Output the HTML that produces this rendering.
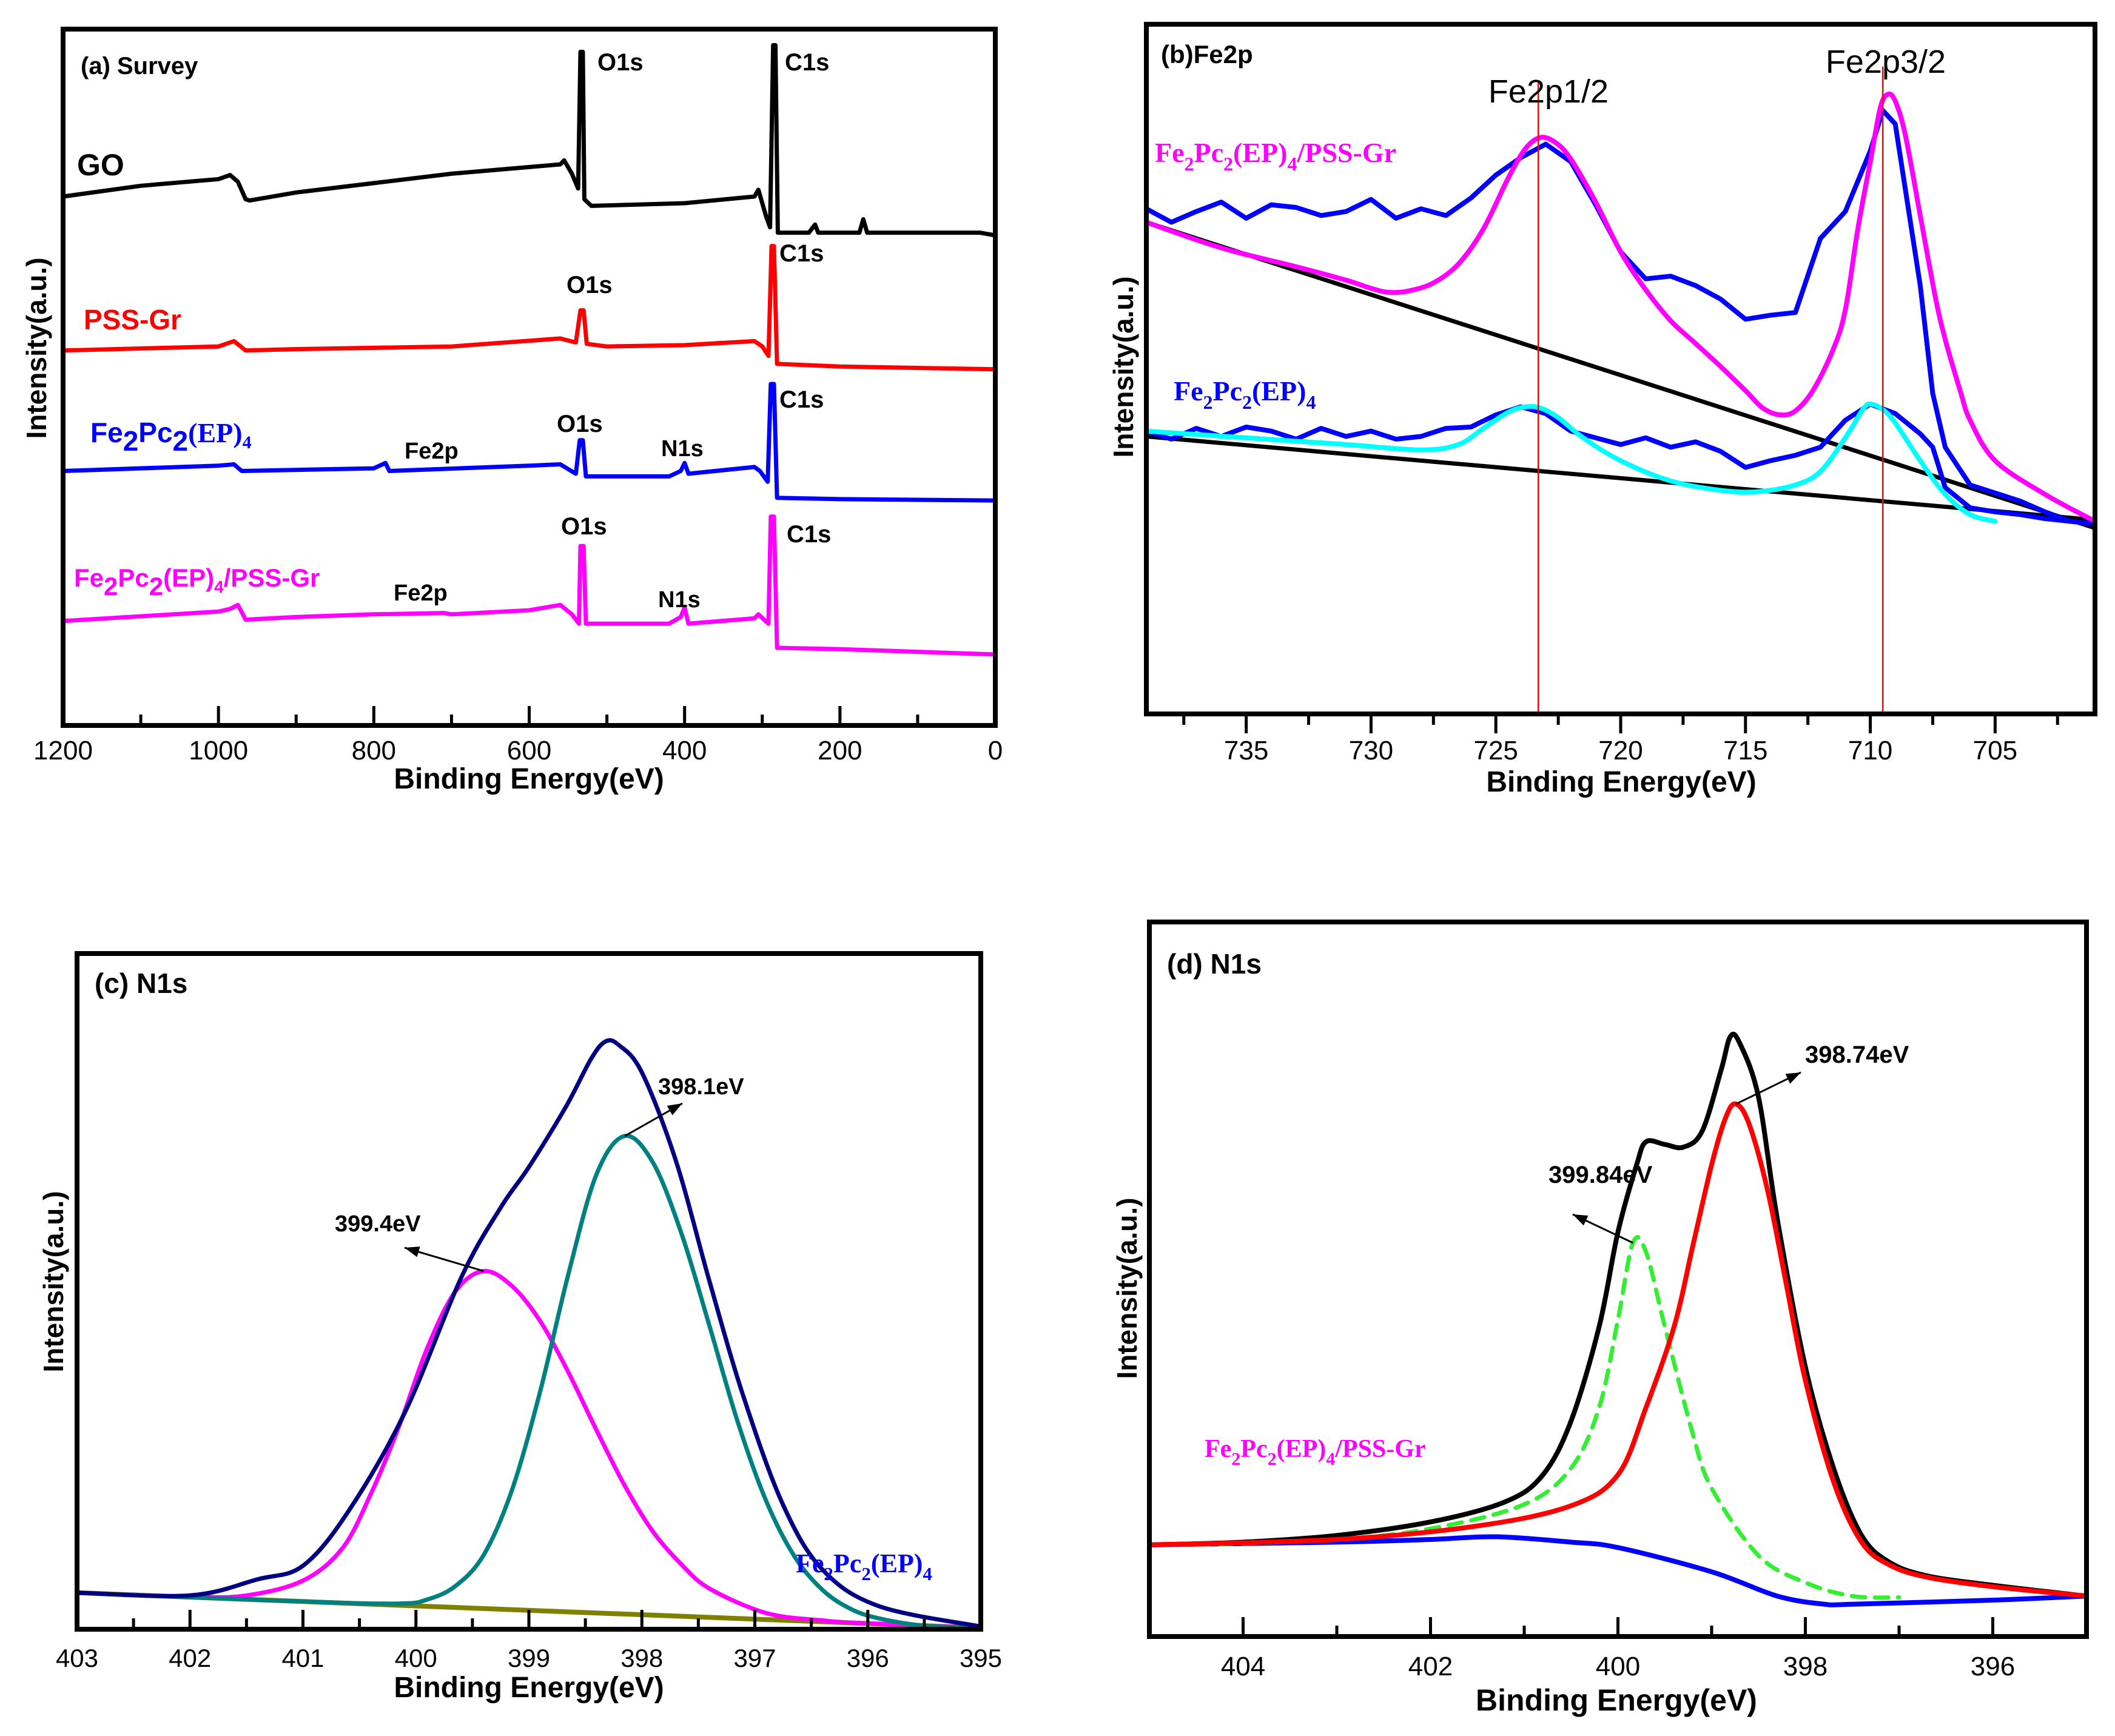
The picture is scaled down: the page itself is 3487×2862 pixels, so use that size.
<!DOCTYPE html>
<html><head><meta charset="utf-8"><title>XPS spectra</title>
<style>
html,body{margin:0;padding:0;background:#fff;}
svg{display:block;}
text{font-family:"Liberation Sans",sans-serif;}
.b{font-weight:bold;}
.serif{font-family:"Liberation Serif",serif;font-weight:bold;}
</style></head>
<body>
<svg id="fig" xmlns="http://www.w3.org/2000/svg" width="3487" height="2862" viewBox="0 0 3487 2862">
<rect width="3487" height="2862" fill="#fff"/>
<g id="pa"></g>
<g id="pb"></g>
<g id="pc"></g>
<g id="pd"></g>

<!-- Panel a text -->
<g class="b" font-weight="bold">
<text x="133" y="122" font-size="40">(a) Survey</text>
<text x="985" y="116" font-size="40">O1s</text>
<text x="1294" y="116" font-size="40">C1s</text>
<text x="127" y="289" font-size="50">GO</text>
<text x="138" y="543" font-size="46" fill="#ff0000">PSS-Gr</text>
<text x="934" y="483" font-size="40">O1s</text>
<text x="1285" y="431" font-size="40">C1s</text>
<text x="149" y="729" font-size="46" fill="#0000ff">Fe<tspan dy="14">2</tspan><tspan dy="-14">Pc</tspan><tspan dy="14">2</tspan><tspan dy="-14" font-family="Liberation Serif">(EP)</tspan><tspan dy="10" font-size="30" font-family="Liberation Serif">4</tspan></text>
<text x="667" y="756" font-size="38">Fe2p</text>
<text x="918" y="712" font-size="40">O1s</text>
<text x="1090" y="752" font-size="38">N1s</text>
<text x="1285" y="672" font-size="40">C1s</text>
<text x="122" y="967" font-size="42" fill="#ff00ff">Fe<tspan dy="14">2</tspan><tspan dy="-14">Pc</tspan><tspan dy="14">2</tspan><tspan dy="-14">(EP)</tspan><tspan dy="10" font-size="28">4</tspan><tspan dy="-10">/PSS-Gr</tspan></text>
<text x="649" y="990" font-size="38">Fe2p</text>
<text x="925" y="881" font-size="40">O1s</text>
<text x="1085" y="1001" font-size="38">N1s</text>
<text x="1297" y="894" font-size="40">C1s</text>
<text transform="translate(76,574) rotate(-90)" text-anchor="middle" font-size="46">Intensity(a.u.)</text>
<text x="872" y="1300" text-anchor="middle" font-size="48">Binding Energy(eV)</text>
</g>

<!-- Panel b text -->
<g>
<text x="1914" y="104" font-size="42" font-weight="bold">(b)Fe2p</text>
<text x="2553" y="169" font-size="54" text-anchor="middle">Fe2p1/2</text>
<text x="3109" y="120" font-size="54" text-anchor="middle">Fe2p3/2</text>
<text x="1904" y="267" class="serif" font-size="46" fill="#ff00ff">Fe<tspan dy="14" font-size="32">2</tspan><tspan dy="-14">Pc</tspan><tspan dy="14" font-size="32">2</tspan><tspan dy="-14">(EP)</tspan><tspan dy="14" font-size="32">4</tspan><tspan dy="-14">/PSS-Gr</tspan></text>
<text x="1935" y="660" class="serif" font-size="46" fill="#0000ff">Fe<tspan dy="14" font-size="32">2</tspan><tspan dy="-14">Pc</tspan><tspan dy="14" font-size="32">2</tspan><tspan dy="-14">(EP)</tspan><tspan dy="14" font-size="32">4</tspan></text>
<text transform="translate(1868,605) rotate(-90)" text-anchor="middle" font-size="46" font-weight="bold">Intensity(a.u.)</text>
<text x="2673" y="1305" text-anchor="middle" font-size="48" font-weight="bold">Binding Energy(eV)</text>
</g>

<!-- Panel c text -->
<g font-weight="bold">
<text x="156" y="1637" font-size="46">(c) N1s</text>
<text x="1085" y="1804" font-size="38">398.1eV</text>
<text x="552" y="2030" font-size="38">399.4eV</text>
<text x="1312" y="2592" class="serif" font-size="44" fill="#0000ff">Fe<tspan dy="13" font-size="31">2</tspan><tspan dy="-13">Pc</tspan><tspan dy="13" font-size="31">2</tspan><tspan dy="-13">(EP)</tspan><tspan dy="13" font-size="31">4</tspan></text>
<text transform="translate(104,2113) rotate(-90)" text-anchor="middle" font-size="46">Intensity(a.u.)</text>
<text x="872" y="2798" text-anchor="middle" font-size="48">Binding Energy(eV)</text>
</g>

<!-- Panel d text -->
<g font-weight="bold">
<text x="1924" y="1605" font-size="46">(d) N1s</text>
<text x="2976" y="1752" font-size="40">398.74eV</text>
<text x="2553" y="1950" font-size="40">399.84eV</text>
<text x="1986" y="2402" class="serif" font-size="42" fill="#ff00ff">Fe<tspan dy="13" font-size="30">2</tspan><tspan dy="-13">Pc</tspan><tspan dy="13" font-size="30">2</tspan><tspan dy="-13">(EP)</tspan><tspan dy="13" font-size="30">4</tspan><tspan dy="-13">/PSS-Gr</tspan></text>
<text transform="translate(1874,2124) rotate(-90)" text-anchor="middle" font-size="46">Intensity(a.u.)</text>
<text x="2665" y="2820" text-anchor="middle" font-size="50">Binding Energy(eV)</text>
</g>
</svg>

<script>
// ---------- Panel a data (BE eV, intensity a.u.) ----------
const aGO = [[1200,395],[1100,403],[1000,408],[985,411],[975,406],[965,393],[960,392],[900,398],[800,405],[700,412],[600,417],[560,419],[555,422],[545,412],[537,401],[534,503],[531,503],[529,393],[520,388],[400,390],[310,395],[305,400],[295,380],[290,372],[286,508],[283,508],[280,368],[240,368],[232,374],[228,368],[175,368],[170,378],[165,368],[100,368],[20,368],[0,366]];
const aPSS = [[1200,280],[1000,283],[980,287],[965,280],[900,281],[700,283],[560,289],[540,286],[534,310],[530,310],[526,285],[500,283],[400,284],[310,287],[300,283],[292,276],[288,358],[285,358],[281,270],[200,268],[0,266]];
const aFePc = [[1200,190],[1000,194],[980,195],[970,190],[800,192],[785,196],[780,190],[600,194],[560,195],[540,188],[535,213],[531,213],[527,186],[420,186],[405,190],[400,196],[395,188],[310,193],[303,190],[293,182],[289,255],[285,255],[281,170],[200,169],[0,168]];
const aFePcPSS = [[1200,78],[1000,85],[985,87],[975,90],[965,79],[900,81],[800,83],[710,84],[700,83],[600,86],[560,90],[545,83],[536,76],[534,134],[530,134],[527,76],[420,76],[405,81],[400,88],[395,76],[310,80],[305,83],[292,76],[289,156],[285,156],[281,58],[200,57],[0,53]];
const aTicks = [1200,1000,800,600,400,200,0];

// ---------- Panel b data ----------
const bFitPSS = [[739,365],[736,346],[733,332],[731,322],[730,316],[729.3,313],[728.5,314],[727.5,320],[726.5,334],[725.5,360],[724.5,398],[723.8,420],[723.2,428],[722.6,424],[722,412],[721,380],[720,343],[719,315],[718,292],[717,275],[716,258],[715,240],[714.3,227],[713.6,222],[713,225],[712.3,240],[711.5,270],[711,300],[710.5,360],[710,410],[709.6,450],[709.3,460],[709,455],[708.6,430],[708,370],[707.4,310],[707,278],[706.4,240],[706,218],[705,188],[703,163],[701,143]];
const bRawPSS = [[739,375],[738,365],[737,373],[736,380],[735,368],[734,378],[733,376],[732,370],[731,373],[730,382],[729,368],[728,375],[727,370],[726,383],[725,400],[724,413],[723,423],[722,410],[721,378],[720,343],[719,323],[718,325],[717,318],[716,308],[715,293],[714,296],[713,298],[712,353],[711,373],[710,418],[709.5,448],[709,438],[708.5,378],[708,318],[707.5,238],[707,198],[706,170],[704,158],[703,150],[702,143],[701,141]];
const bBase1 = [[739,365],[701,138]];
const bBase2 = [[739,206],[701,144]];
const bFitFePc = [[739,210],[735,205],[731,200],[728,196],[726.5,200],[725.5,212],[724.5,224],[723.8,228],[723.2,227],[722.5,220],[721.5,205],[720,188],[718,173],[716,166],[714.5,165],[713,170],[712,180],[711,205],[710.3,226],[710,230],[709.5,226],[709,216],[708,188],[707,163],[706,148],[705,143]];
const bRawFePc = [[739,210],[738,204],[737,212],[736,206],[735,213],[734,210],[733,204],[732,212],[731,206],[730,210],[729,204],[728,206],[727,212],[726,213],[725,222],[724,228],[723,223],[722,210],[721,205],[720,200],[719,205],[718,198],[717,202],[716,195],[715,183],[714,188],[713,192],[712,198],[711,218],[710,230],[709,223],[708,208],[707.5,198],[707,168],[706,153],[705,150],[704,148],[703,145],[702,143],[701,141]];
const bPeakLines = [723.3,709.5];
const bTicks = [735,730,725,720,715,710,705];

// ---------- Panel c data ----------
const cEnvelope = [[403,27],[402,25],[401.4,37],[401,47],[400.6,87],[400.1,160],[399.6,260],[399.25,312],[399,342],[398.67,387],[398.45,422],[398.32,435],[398.2,432],[398,412],[397.7,347],[397.4,257],[397.1,172],[396.75,92],[396.4,44],[395.9,17],[395,2]];
const cPeak3981 = [[403,27],[401,20.5],[400.15,19],[399.9,22],[399.65,32],[399.4,55],[399.15,103],[398.9,176],[398.65,263],[398.4,337],[398.15,365],[397.9,345],[397.65,293],[397.4,224],[397.15,153],[396.9,95],[396.65,54],[396.4,29],[396.15,15],[395.9,8],[395.5,2.6],[395,1]];
const cPeak3994 = [[403,27],[402,24],[401.5,25],[401,36],[400.65,60],[400.4,100],[400.15,150],[399.9,208],[399.65,250],[399.4,265],[399.15,254],[398.9,228],[398.65,190],[398.4,147],[398.15,106],[397.9,72],[397.65,48],[397.4,30],[396.9,12],[396.4,6.5],[396,4.3],[395,1]];
const cBase = [[403,27],[395,1]];
const cTicks = [403,402,401,400,399,398,397,396,395];

// ---------- Panel d data ----------
const dEnvelope = [[405,68],[404,70],[403,75],[402,85],[401.2,100],[400.8,120],[400.5,160],[400.2,230],[400,300],[399.8,350],[399.7,367],[399.5,365],[399.3,363],[399.1,375],[398.9,420],[398.8,445],[398.7,440],[398.5,400],[398.3,310],[398,200],[397.7,125],[397.4,75],[397.1,55],[396.7,45],[396,38],[395,30]];
const dPeak39874 = [[405,68],[403,72],[401.5,82],[400.5,97],[400,120],[399.7,170],[399.4,230],[399.2,290],[399,350],[398.85,385],[398.74,395],[398.6,380],[398.4,330],[398.2,260],[398,190],[397.7,115],[397.4,70],[397.1,53],[396.7,44],[396,37],[395,30]];
const dPeak39984 = [[404.5,68],[403,72],[402,80],[401,98],[400.5,125],[400.2,170],[400,235],[399.84,292],[399.7,285],[399.5,230],[399.2,150],[399,110],[398.5,60],[398,40],[397.5,30],[397,29]];
const dBase = [[405,68],[403,70],[402,72],[401.3,74],[400.5,70],[400,66],[399,48],[398.3,30],[397.8,24],[397.5,24],[396,27],[395,30]];
const dTicks = [404,402,400,398,396];

const NS = "http://www.w3.org/2000/svg";
function mk(tag, attrs, parent){
  const e = document.createElementNS(NS, tag);
  for (const k in attrs) e.setAttribute(k, attrs[k]);
  parent.appendChild(e); return e;
}
function scales(P){
  const sx = v => P.x0 + (P.d0 - v) / (P.d0 - P.d1) * (P.x1 - P.x0);
  const sy = v => P.y1 - (v - P.r0) / (P.r1 - P.r0) * (P.y1 - P.y0);
  return [sx, sy];
}
function linePath(pts, sx, sy){
  return pts.map((p,i)=>(i?'L':'M')+sx(p[0]).toFixed(1)+','+sy(p[1]).toFixed(1)).join('');
}
function smoothPath(pts, sx, sy){
  const q = pts.map(p=>[sx(p[0]), sy(p[1])]);
  let d = 'M'+q[0][0].toFixed(1)+','+q[0][1].toFixed(1);
  for (let i=0;i<q.length-1;i++){
    const p0=q[Math.max(0,i-1)], p1=q[i], p2=q[i+1], p3=q[Math.min(q.length-1,i+2)];
    const c1=[p1[0]+(p2[0]-p0[0])/6, p1[1]+(p2[1]-p0[1])/6];
    const c2=[p2[0]-(p3[0]-p1[0])/6, p2[1]-(p3[1]-p1[1])/6];
    d += 'C'+c1[0].toFixed(1)+','+c1[1].toFixed(1)+' '+c2[0].toFixed(1)+','+c2[1].toFixed(1)+' '+p2[0].toFixed(1)+','+p2[1].toFixed(1);
  }
  return d;
}
function frame(g, P, name){
  const r = mk('rect',{x:P.x0,y:P.y0,width:P.x1-P.x0,height:P.y1-P.y0,fill:'none',stroke:'#000','stroke-width':8},g);
  
  
}
function ticks(g, P, sx, majors, minors, outward, labelY, fs, name){
  const dir = outward ? 1 : -1;
  majors.forEach(v=>{
    const x = sx(v);
    const t = mk('line',{x1:x,y1:P.y1,x2:x,y2:P.y1+dir*32,stroke:'#000','stroke-width':5},g);
    
    
    const l = mk('text',{x:x,y:labelY,'text-anchor':'middle','font-size':fs},g);
    
    
    l.textContent = String(v);
  });
  minors.forEach(v=>{
    const x = sx(v);
    const t = mk('line',{x1:x,y1:P.y1,x2:x,y2:P.y1+dir*18,stroke:'#000','stroke-width':5},g);
    
    
  });
}
function series(g, pts, sx, sy, color, w, name, smooth, dash){
  const a = {d:(smooth?smoothPath:linePath)(pts,sx,sy),fill:'none',stroke:color,'stroke-width':w,'stroke-linejoin':'round','stroke-linecap':'round'};
  if (dash) a['stroke-dasharray']=dash;
  const p = mk('path',a,g);
  
  
}
function arrow(g, x1,y1,x2,y2, name){
  const ln = mk('line',{x1:x1,y1:y1,x2:x2,y2:y2,stroke:'#000','stroke-width':3},g);
  
  
  const ang = Math.atan2(y2-y1,x2-x1), L=24, W=9;
  const bx = x2 - L*Math.cos(ang), by = y2 - L*Math.sin(ang);
  const px = -Math.sin(ang)*W, py = Math.cos(ang)*W;
  const hd = mk('polygon',{points:`${x2},${y2} ${bx+px},${by+py} ${bx-px},${by-py}`,fill:'#000'},g);
  
  
}
function range(a,b,s){const r=[];for(let v=a;v<=b+1e-9;v+=s)r.push(Math.round(v*10)/10);return r;}

// Panel a
(function(){
  const g = document.getElementById('pa');
  const P = {x0:104,x1:1641,y0:48,y1:1196,d0:1200,d1:0,r0:0,r1:520};
  const [sx,sy] = scales(P);
  series(g,aGO,sx,sy,'#000',7,'go-spectrum',false);
  series(g,aPSS,sx,sy,'#ff0000',7,'pss-gr-spectrum',false);
  series(g,aFePc,sx,sy,'#0000ff',7,'fepc-spectrum',false);
  series(g,aFePcPSS,sx,sy,'#ff00ff',7,'fepc-pss-spectrum',false);
  frame(g,P,'panel-a-frame');
  ticks(g,P,sx,aTicks,[1100,900,700,500,300,100],false,1252,44,'panel-a-x');
})();
// Panel b
(function(){
  const g = document.getElementById('pb');
  const P = {x0:1890,x1:3454,y0:40,y1:1177,d0:739,d1:701,r0:0,r1:512};
  const [sx,sy] = scales(P);
  series(g,bBase1,sx,sy,'#000',7,'baseline-fepc-pss',false);
  series(g,bBase2,sx,sy,'#000',7,'baseline-fepc',false);
  series(g,bRawPSS,sx,sy,'#0000ff',8,'raw-fepc-pss',false);
  series(g,bRawFePc,sx,sy,'#0000ff',8,'raw-fepc',false);
  series(g,bFitPSS,sx,sy,'#ff00ff',8,'fit-fepc-pss',true);
  series(g,bFitFePc,sx,sy,'#00ffff',8,'fit-fepc',true);
  bPeakLines.forEach((v,i)=>{
    const l = mk('line',{x1:sx(v),y1:i?110:135,x2:sx(v),y2:P.y1,stroke:'#ff0000','stroke-width':2.5},g);
    
    
  });
  frame(g,P,'panel-b-frame');
  ticks(g,P,sx,bTicks,[737.5,732.5,727.5,722.5,717.5,712.5,707.5,702.5],true,1252,44,'panel-b-x');
})();
// Panel c
(function(){
  const g = document.getElementById('pc');
  const P = {x0:127,x1:1617,y0:1572,y1:2686,d0:403,d1:395,r0:0,r1:500};
  const [sx,sy] = scales(P);
  series(g,cBase,sx,sy,'#808000',8,'baseline-c',false);
  series(g,cPeak3994,sx,sy,'#ff00ff',7,'peak-399-4',true);
  series(g,cPeak3981,sx,sy,'#008080',7,'peak-398-1',true);
  series(g,cEnvelope,sx,sy,'#000080',7,'envelope-c',true);
  frame(g,P,'panel-c-frame');
  ticks(g,P,sx,cTicks,range(395.5,402.5,1),false,2748,42,'panel-c-x');
  arrow(g,sx(398.15),sy(365),1125,1819,'arrow-398-1');
  arrow(g,sx(399.4),sy(265),667,2057,'arrow-399-4');
})();
// Panel d
(function(){
  const g = document.getElementById('pd');
  const P = {x0:1895,x1:3440,y0:1520,y1:2698,d0:405,d1:395,r0:0,r1:530};
  const [sx,sy] = scales(P);
  series(g,dBase,sx,sy,'#0000ff',8,'baseline-d',true);
  series(g,dPeak39984,sx,sy,'#33ee33',7,'peak-399-84',true,'22,16');
  series(g,dEnvelope,sx,sy,'#000',8,'envelope-d',true);
  series(g,dPeak39874,sx,sy,'#ff0000',8,'peak-398-74',true);
  frame(g,P,'panel-d-frame');
  ticks(g,P,sx,dTicks,[403,401,399,397],false,2762,44,'panel-d-x');
  arrow(g,sx(398.74),sy(395),2969,1768,'arrow-398-74');
  arrow(g,sx(399.84),sy(292),2593,2002,'arrow-399-84');
})();
</script>
</body></html>
